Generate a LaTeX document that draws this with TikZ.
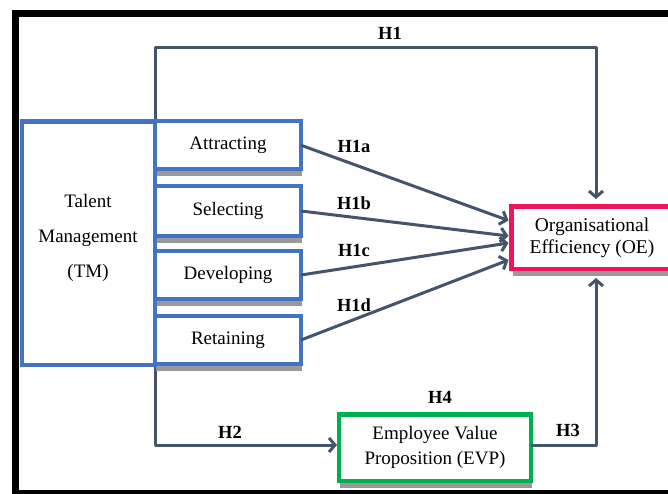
\documentclass[tikz,border=0pt]{standalone}
\usepackage{fontspec}
\setmainfont{Liberation Serif}
\usetikzlibrary{arrows.meta,shadows,calc}
\definecolor{boxblue}{HTML}{4472C4}
\definecolor{slate}{HTML}{44546A}
\definecolor{oepink}{HTML}{F0145A}
\definecolor{evpgreen}{HTML}{00B050}
\tikzset{
  conn/.style={draw=slate,line width=3pt,line join=round},
  arr/.style={conn,-{Straight Barb[length=6pt,width=14pt,line width=3pt]}},
  shad/.style={drop shadow={shadow xshift=1pt,shadow yshift=-7pt,fill=black!40,opacity=1}},
  bluebox/.style={draw=boxblue,line width=4.5pt,fill=white,inner sep=0pt,outer sep=0pt},
  subbox/.style={bluebox,shad,minimum width=146pt,minimum height=48pt,font=\rmfamily\fontsize{19}{22}\selectfont},
  hlab/.style={font=\rmfamily\bfseries\fontsize{18.5}{22}\selectfont,inner sep=0pt},
}
\begin{document}
\begin{tikzpicture}[x=1pt,y=-1pt]
\useasboundingbox (0,0) rectangle (668,494);
\clip (0,0) rectangle (668,494);
\fill[white] (0,0) rectangle (668,494);
% frame
\draw[line width=7pt,black] (15.5,13.5) rectangle (720,493.5);
% coordinates
\coordinate (h1top) at (155,48);
\coordinate (h1right) at (596,48);
\coordinate (h2bot) at (155,445);
\coordinate (h3right) at (596,445);
% Talent Management box
\node[bluebox,minimum width=133pt,minimum height=243.5pt] (TM) at (88.5,243.25) {};
\node[align=center,font=\rmfamily\fontsize{19}{35}\selectfont,inner sep=0pt] (TMt) at (88,238) {Talent\\Management\\(TM)};
% H1 & H2 paths (behind sub-boxes)
\draw[arr] (h1top |- TM.north) -- (h1top) -- (h1right) -- (h1right |- 0,199);
\draw[arr] (h1top |- TM.north) -- (h2bot) -- (337,445);
\node[subbox] (A) at (228,145.25) {Attracting};
\node[subbox,minimum height=50pt] (S) at (228,211) {Selecting};
\node[subbox] (D) at (228,275) {Developing};
\node[subbox] (R) at (228,340) {Retaining};
\draw[draw=boxblue,line width=4.5pt] (TM.north west) rectangle (TM.south east);
\node[draw=oepink,line width=4.5pt,fill=white,shad,minimum width=161pt,minimum height=62.5pt,inner sep=0pt,outer sep=0pt,align=center,font=\rmfamily\fontsize{19.5}{22}\selectfont,anchor=north west] (OE) at (511.5,206.25) {Organisational\\Efficiency (OE)};
\node[draw=evpgreen,line width=4.5pt,fill=white,shad,minimum width=192pt,minimum height=66.5pt,inner sep=0pt,outer sep=0pt,align=center,font=\rmfamily\fontsize{19}{25}\selectfont,anchor=north west] (EVP) at (339,414.5) {Employee Value\\Proposition (EVP)};
% hypothesis arrows
\draw[arr] (A.east) -- ($(OE.west)+(-3,-17)$);
\draw[arr] (S.east) -- ($(OE.west)+(-3,-1.5)$);
\draw[arr] (D.east) -- ($(OE.west)+(-3,5.5)$);
\draw[arr] (R.east) -- ($(OE.west)+(-3,22.5)$);
\draw[arr] (EVP.east |- h3right) -- (h3right) -- (596,278);
% labels
\node[hlab] (l1) at (390,33) {H1};
\node[hlab] (l1a) at (354,146) {H1a};
\node[hlab] (l1b) at (354,203) {H1b};
\node[hlab] (l1c) at (354,250) {H1c};
\node[hlab] (l1d) at (354,305) {H1d};
\node[hlab] (l2) at (230,432) {H2};
\node[hlab] (l4) at (440,397) {H4};
\node[hlab] (l3) at (568,430) {H3};
\end{tikzpicture}
\end{document}
